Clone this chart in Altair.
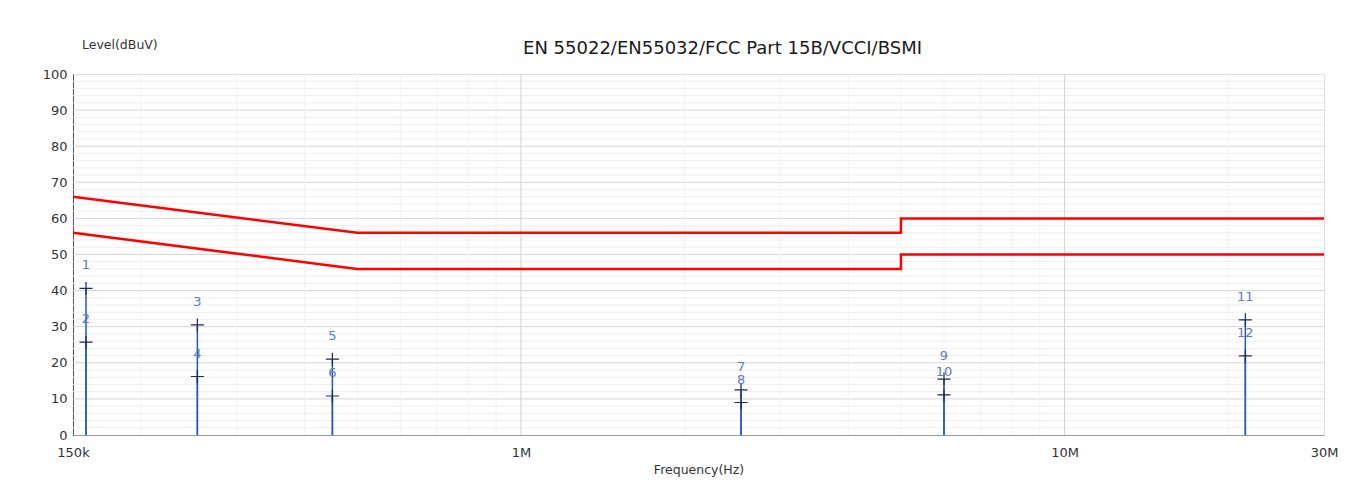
import altair as alt
import pandas as pd

FONT = "DejaVu Sans"

# Limit lines (frequency in Hz, level in dBuV)
qp_freq = [150e3, 500e3, 5e6, 5e6, 30e6]
qp_level = [66, 56, 56, 60, 60]
av_freq = [150e3, 500e3, 5e6, 5e6, 30e6]
av_level = [56, 46, 46, 50, 50]

# Measured markers
marker_no = ["1", "2", "3", "4", "5", "6", "7", "8", "9", "10", "11", "12"]
marker_freq = [158.5e3, 158.5e3, 254e3, 254e3, 450e3, 450e3,
               2.54e6, 2.54e6, 6.0e6, 6.0e6, 21.5e6, 21.5e6]
marker_level = [40.6, 25.7, 30.5, 16.2, 21.0, 10.8,
                12.5, 9.0, 15.5, 11.1, 31.9, 21.9]

# Axis ticks
x_tick_vals = [150e3, 1e6, 10e6, 30e6]
x_tick_text = ["150k", "1M", "10M", "30M"]
y_tick_vals = list(range(0, 101, 10))
major_v_grid = [1e6, 10e6]
minor_v_grid = [2e5, 3e5, 4e5, 5e5, 6e5, 7e5, 8e5, 9e5,
                2e6, 3e6, 4e6, 5e6, 6e6, 7e6, 8e6, 9e6, 2e7]
major_h_grid = list(range(10, 100, 10))
minor_h_grid = [v for v in range(2, 100, 2) if v % 10 != 0]

label_expr = " : ".join(
    f"datum.value == {v} ? '{t}'" for v, t in zip(x_tick_vals, x_tick_text)
) + " : ''"

xscale = alt.Scale(type="log", domain=[150e3, 30e6], nice=False)
yscale = alt.Scale(domain=[0, 100], nice=False)

X_AXIS = alt.Axis(values=x_tick_vals, labelExpr=label_expr, grid=False,
                  ticks=False, domainColor="#9a9a9a", labelFont=FONT,
                  labelFontSize=13, labelColor="#333333", labelPadding=11,
                  title="Frequency(Hz)", titleFont=FONT, titleFontSize=12.5,
                  titleFontWeight="normal", titleColor="#333333",
                  titlePadding=4, labelFlush=False)
Y_AXIS = alt.Axis(values=y_tick_vals, grid=False, ticks=False,
                  domainColor="#555555", labelFont=FONT, labelFontSize=13,
                  labelColor="#333333", labelPadding=6, title=None)


def X(field):
    return alt.X(field, type="quantitative", scale=xscale, axis=X_AXIS)


def Y(field):
    return alt.Y(field, type="quantitative", scale=yscale, axis=Y_AXIS)


limits = pd.DataFrame({
    "f": qp_freq + av_freq,
    "lvl": qp_level + av_level,
    "series": ["QP"] * len(qp_freq) + ["AV"] * len(av_freq),
    "ord": list(range(len(qp_freq))) + list(range(len(av_freq))),
})
markers = pd.DataFrame({"no": marker_no, "f": marker_freq, "lvl": marker_level})
markers["zero"] = 0

minor_v = alt.Chart(pd.DataFrame({"f": minor_v_grid})).mark_rule(
    color="#f1f1f1", strokeWidth=1).encode(x=X("f"))
major_v = alt.Chart(pd.DataFrame({"f": major_v_grid})).mark_rule(
    color="#d2d2d2", strokeWidth=1).encode(x=X("f"))
minor_h = alt.Chart(pd.DataFrame({"v": minor_h_grid})).mark_rule(
    color="#eeeeee", strokeWidth=1).encode(y=Y("v"))
major_h = alt.Chart(pd.DataFrame({"v": major_h_grid})).mark_rule(
    color="#d6d6d6", strokeWidth=1).encode(y=Y("v"))

limit_lines = alt.Chart(limits).mark_line(
    color="#ff0000", strokeWidth=2.5, interpolate="linear").encode(
    x=X("f"), y=Y("lvl"), detail="series:N", order="ord:Q")

stems = alt.Chart(markers).mark_rule(color="#2458c8", strokeWidth=1.5).encode(
    x=X("f"), y=Y("zero"), y2="lvl")

crosses = alt.Chart(markers).mark_point(
    shape="M-1,0L1,0M0,-1L0,1", size=170, stroke="#1c2a4e", strokeWidth=1.2,
    filled=False, opacity=1).encode(x=X("f"), y=Y("lvl"))

labels = alt.Chart(markers).mark_text(
    font=FONT, fontSize=13, color="#5f78c0", dy=-23, baseline="middle",
    align="center").encode(x=X("f"), y=Y("lvl"), text="no:N")

ylabel = alt.Chart(pd.DataFrame({"t": ["Level(dBuV)"]})).mark_text(
    font=FONT, fontSize=12.5, color="#333333", align="left", baseline="middle").encode(
    x=alt.value(9), y=alt.value(-29), text="t:N")

chart = alt.layer(minor_h, major_h, minor_v, major_v, limit_lines, stems,
                  crosses, labels, ylabel).properties(
    width=1251, height=361,
    title=alt.TitleParams("EN 55022/EN55032/FCC Part 15B/VCCI/BSMI",
                          font=FONT, fontSize=18, fontWeight="normal",
                          color="#1a1a1a", anchor="middle", dx=24, dy=33,
                          offset=14),
    autosize=alt.AutoSizeParams(type="none"),
    padding={"left": 65, "top": 66, "right": 20, "bottom": 44},
).configure_view(stroke="#8a8a8a", strokeWidth=1).configure(background="white")

chart.save("out.html", embed_options={"renderer": "svg", "actions": False})
